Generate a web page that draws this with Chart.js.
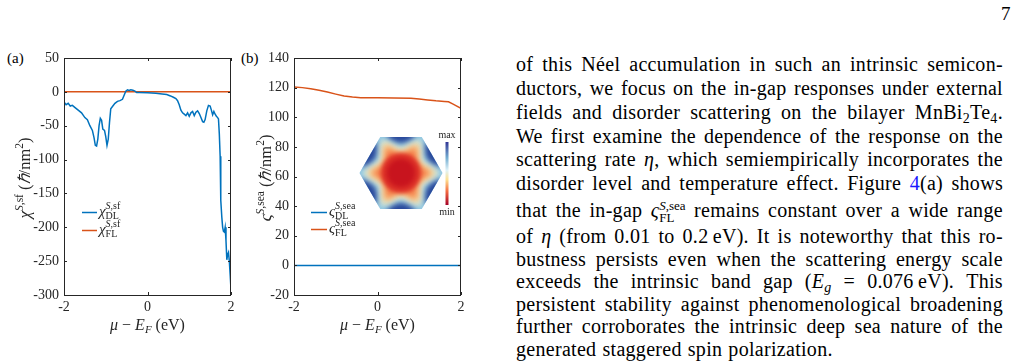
<!DOCTYPE html>
<html>
<head>
<meta charset="utf-8">
<script src="https://cdn.jsdelivr.net/npm/chart.js@4.4.0/dist/chart.umd.min.js"></script>
<style>
body { margin: 0; background: #fff; width: 1012px; height: 362px; overflow: hidden; position: relative; font-family: "Liberation Serif", serif; color: #000; }
canvas { position: absolute; top: 0; }
.tag { position: absolute; font-size: 15px; }
.ln { position: absolute; left: 516px; width: 487px; height: 22px; line-height: 22px; font-size: 20px; letter-spacing: 0.3px; display: flex; justify-content: space-between; align-items: baseline; white-space: nowrap; }
.ln.last { justify-content: flex-start; gap: 6px; }
.ln sub { font-size: 14px; vertical-align: -4px; line-height: 0; }
.ss { display: inline-flex; flex-direction: column; font-size: 13px; line-height: 12px; vertical-align: 7px; letter-spacing: 0; }
.lk { color: #1a1aff; }
</style>
</head>
<body>
<div class="tag" style="left:1001px;top:3px;font-size:19px">7</div>
<div class="tag" style="left:7px;top:50px">(a)</div>
<div class="tag" style="left:241px;top:50px">(b)</div>
<canvas id="chartA" width="250" height="362" style="left:0px"></canvas>
<canvas id="chartB" width="244" height="362" style="left:236px"></canvas>
<div id="text"></div>
<script>
// energy axis and responses, panel (a)
const dlE = [-2, -1.95, -1.9, -1.85, -1.8, -1.72, -1.66, -1.58, -1.5, -1.44, -1.38, -1.32, -1.28, -1.25, -1.22, -1.19, -1.16, -1.13, -1.1, -1.07, -1.03, -1.0, -0.97, -0.94, -0.91, -0.88, -0.83, -0.78, -0.72, -0.66, -0.6, -0.56, -0.52, -0.48, -0.44, -0.4, -0.35, -0.3, -0.26, -0.2, 0, 0.2, 0.35, 0.46, 0.55, 0.62, 0.68, 0.72, 0.76, 0.8, 0.84, 0.88, 0.92, 0.96, 1.0, 1.04, 1.08, 1.12, 1.16, 1.2, 1.24, 1.28, 1.32, 1.35, 1.38, 1.42, 1.46, 1.5, 1.53, 1.56, 1.59, 1.62, 1.65, 1.68, 1.7, 1.72, 1.74, 1.75, 1.76, 1.78, 1.8, 1.82, 1.84, 1.86, 1.88, 1.9, 1.92, 1.94, 1.96, 1.98, 2.0];
const dlSf = [-15, -19, -17, -21, -20, -24, -27, -31, -38, -41, -50, -57, -68, -79, -80, -70, -50, -39, -42, -55, -57, -66, -79, -70, -45, -25, -21, -17, -14, -13, -11, -5, 1, 3, 2, 3, 2.5, 1, -1, -1, -1.5, -2, -3, -4, -6, -8, -10, -13, -19, -27, -31, -33, -35, -31, -36, -31, -29, -35, -30, -28, -32, -38, -44, -45, -41, -28, -20, -21, -27, -34, -29, -33, -36, -38, -40, -62, -95, -125, -160, -185, -200, -206, -207, -200, -220, -248, -240, -237, -250, -270, -292];
const flE = [-2, 2];
const flSf = [0, 0];

// panel (b)
const seaE = [-2, -1.8, -1.6, -1.4, -1.2, -1.0, -0.8, -0.6, -0.4, -0.2, 0, 0.4, 0.8, 1.0, 1.2, 1.4, 1.6, 1.7, 1.8, 1.9, 2.0];
const flSea = [120.5, 120, 119.2, 118.2, 117, 115.6, 114.3, 113.6, 113.2, 113.1, 113.1, 113, 112.8, 112.3, 111.7, 111.1, 110.7, 110.4, 109, 107.5, 106];
const dlSea = seaE.map(() => 0);

// tick settings
const xTicks = { min: -2, max: 2, step: 2 };
const yTicksA = { min: -300, max: 50, step: 50 };
const yTicksB = { min: -20, max: 140, step: 20 };

const BLUE = '#0072BD', ORANGE = '#D95319', AX = '#262626';

function fnt(sz, it) { return (it ? 'italic ' : '') + sz + 'px "Liberation Serif", serif'; }

// width of a run of math pieces
function runW(ctx, parts) {
    let w = 0;
    parts.forEach(p => {
        if (p.stack) {
            w += Math.max(runW(ctx, p.stack[0]), runW(ctx, p.stack[1]));
        } else {
            ctx.font = fnt(p.s, p.it);
            w += ctx.measureText(p.t).width;
        }
    });
    return w;
}

// draw a run of math pieces from x, baseline y
function runDraw(ctx, parts, x, y) {
    parts.forEach(p => {
        if (p.stack) {
            runDraw(ctx, p.stack[0], x, y + p.up);
            runDraw(ctx, p.stack[1], x, y + p.dn);
            x += Math.max(runW(ctx, p.stack[0]), runW(ctx, p.stack[1]));
        } else {
            ctx.font = fnt(p.s, p.it);
            ctx.fillText(p.t, x, y + (p.dy || 0));
            x += ctx.measureText(p.t).width;
        }
    });
}

const xTitle = [
    { t: 'μ', s: 16, it: true }, { t: ' − ', s: 16 }, { t: 'E', s: 16, it: true },
    { t: 'F', s: 11, it: true, dy: 3 }, { t: ' (eV)', s: 16 }
];
function yTitle(sym, sup) {
    return [
        { t: sym, s: 17, it: true }, { t: 'S', s: 11.5, it: true, dy: -7.5 }, { t: sup, s: 11.5, dy: -7.5 },
        { t: ' (', s: 16.5 }, { t: 'ℏ', s: 16.5, it: true }, { t: '/nm', s: 16.5 }, { t: '2', s: 11.5, dy: -7.5 }, { t: ')', s: 16.5 }
    ];
}
function legendSym(sym, sup, sub) {
    return [
        { t: sym, s: 15, it: true },
        { stack: [[{ t: 'S', s: 10, it: true }, { t: sup, s: 10 }], [{ t: sub, s: 10 }]], up: -7, dn: 3.5 }
    ];
}

// box, inner ticks, titles and legend
function decor(cfg) {
    return {
        id: 'decor',
        afterDraw(chart) {
            const { ctx, chartArea: a, scales } = chart;
            ctx.save();
            ctx.strokeStyle = AX;
            ctx.lineWidth = 1;
            ctx.strokeRect(Math.round(a.left) + 0.5, Math.round(a.top) + 0.5, Math.round(a.right - a.left) - 1, Math.round(a.bottom - a.top));
            const tl = 3;
            ctx.beginPath();
            scales.y.ticks.forEach(t => {
                const py = Math.round(scales.y.getPixelForValue(t.value)) + 0.5;
                ctx.moveTo(a.left, py); ctx.lineTo(a.left + tl, py);
                ctx.moveTo(a.right, py); ctx.lineTo(a.right - tl, py);
            });
            scales.x.ticks.forEach(t => {
                const px = Math.round(scales.x.getPixelForValue(t.value)) + 0.5;
                ctx.moveTo(px, a.bottom); ctx.lineTo(px, a.bottom - tl);
                ctx.moveTo(px, a.top); ctx.lineTo(px, a.top + tl);
            });
            ctx.stroke();

            ctx.fillStyle = AX;
            ctx.textBaseline = 'alphabetic';
            // x title
            const cxm = (a.left + a.right) / 2;
            runDraw(ctx, xTitle, cxm - runW(ctx, xTitle) / 2, 330);
            // y title, rotated
            ctx.save();
            ctx.translate(cfg.yTitleX, 178);
            ctx.rotate(-Math.PI / 2);
            runDraw(ctx, cfg.yTitle, -runW(ctx, cfg.yTitle) / 2, 0);
            ctx.restore();

            // legend
            cfg.legend.forEach(it => {
                ctx.strokeStyle = it.color;
                ctx.lineWidth = 1.5;
                ctx.beginPath();
                ctx.moveTo(a.left + cfg.legX[0], it.y);
                ctx.lineTo(a.left + cfg.legX[1], it.y);
                ctx.stroke();
                ctx.fillStyle = AX;
                runDraw(ctx, it.label, a.left + cfg.legX[1] + 2, it.y + 3);
            });
            ctx.restore();
        }
    };
}

// heat map inset of panel (b)
function hexPath(ctx, cx, cy, r) {
    ctx.beginPath();
    for (let k = 0; k < 6; k++) {
        const t = k * Math.PI / 3;
        const px = cx + r * Math.cos(t), py = cy + r * Math.sin(t);
        k ? ctx.lineTo(px, py) : ctx.moveTo(px, py);
    }
    ctx.closePath();
}
function starPath(ctx, cx, cy, ro, ri) {
    ctx.beginPath();
    for (let k = 0; k < 12; k++) {
        const t = k * Math.PI / 6;
        const r = k % 2 ? ri : ro;
        const px = cx + r * Math.cos(t), py = cy + r * Math.sin(t);
        k ? ctx.lineTo(px, py) : ctx.moveTo(px, py);
    }
    ctx.closePath();
}
const insetPlugin = {
    id: 'inset',
    afterDatasetsDraw(chart) {
        const { ctx, chartArea: a } = chart;
        const cx = a.left + 107, cy = a.top + 115, R = 41.5;
        ctx.save();
        hexPath(ctx, cx, cy, R);
        ctx.clip();
        ctx.fillStyle = '#86c3e2';
        ctx.fillRect(cx - R - 2, cy - R - 2, 2 * R + 4, 2 * R + 4);
        ctx.filter = 'blur(3px)';
        ctx.fillStyle = '#27469a';
        for (let k = 0; k < 6; k++) {
            const t = Math.PI / 6 + k * Math.PI / 3;
            ctx.beginPath();
            ctx.ellipse(cx + 38 * Math.cos(t), cy + 38 * Math.sin(t), 14, 9, t + Math.PI / 2, 0, 2 * Math.PI);
            ctx.fill();
        }
        ctx.filter = 'blur(3.5px)';
        ctx.fillStyle = '#cdebf3';
        starPath(ctx, cx, cy, 41, 25); ctx.fill();
        ctx.fillStyle = '#fde79a';
        starPath(ctx, cx, cy, 37, 22); ctx.fill();
        ctx.fillStyle = '#f47a47';
        starPath(ctx, cx, cy, 32, 19); ctx.fill();
        ctx.filter = 'blur(2px)';
        ctx.fillStyle = '#dc2f27';
        ctx.beginPath(); ctx.arc(cx, cy, 20, 0, 2 * Math.PI); ctx.fill();
        ctx.fillStyle = '#c8141e';
        ctx.beginPath(); ctx.arc(cx, cy, 14, 0, 2 * Math.PI); ctx.fill();
        ctx.restore();

        // colour bar
        ctx.save();
        const bx = a.left + 151.5, by0 = a.top + 84, by1 = a.top + 147;
        const g = ctx.createLinearGradient(0, by0, 0, by1);
        g.addColorStop(0, '#313695');
        g.addColorStop(0.25, '#74add1');
        g.addColorStop(0.45, '#e0f3f8');
        g.addColorStop(0.6, '#fee090');
        g.addColorStop(0.78, '#f46d43');
        g.addColorStop(1, '#a50026');
        ctx.fillStyle = g;
        ctx.fillRect(bx, by0, 3, by1 - by0);
        ctx.fillStyle = AX;
        ctx.font = fnt(10, false);
        ctx.textAlign = 'center';
        ctx.fillText('max', bx + 1.5, by0 - 4);
        ctx.fillText('min', bx + 1.5, by1 + 10);
        ctx.restore();
    }
};

function makeChart(id, datasets, yT, cfg, extra) {
    const tickFont = { family: '"Liberation Serif", serif', size: 14 };
    return new Chart(document.getElementById(id), {
        type: 'line',
        data: { datasets: datasets },
        options: {
            responsive: false,
            animation: false,
            layout: { padding: { left: 0, right: 19, top: 58, bottom: 0 } },
            plugins: { legend: { display: false }, tooltip: { enabled: false } },
            elements: { point: { radius: 0 }, line: { borderWidth: 1.5, tension: 0 } },
            scales: {
                x: {
                    type: 'linear', min: xTicks.min, max: xTicks.max,
                    ticks: { stepSize: xTicks.step, padding: 4, font: tickFont, color: AX },
                    grid: { display: false, drawTicks: false },
                    border: { display: false },
                    afterFit: s => { s.height = 67; }
                },
                y: {
                    min: yT.min, max: yT.max,
                    ticks: { stepSize: yT.step, padding: 5, font: tickFont, color: AX },
                    grid: { display: false, drawTicks: false },
                    border: { display: false },
                    afterFit: s => { s.width = cfg.axisW; }
                }
            }
        },
        plugins: [decor(cfg)].concat(extra || [])
    });
}

const pts = (xs, ys) => xs.map((x, i) => ({ x: x, y: ys[i] }));

makeChart('chartA', [
    { data: pts(dlE, dlSf), borderColor: BLUE },
    { data: pts(flE, flSf), borderColor: ORANGE }
], yTicksA, {
    axisW: 64,
    yTitleX: 30,
    yTitle: yTitle('χ', ',sf'),
    legX: [18, 33],
    legend: [
        { color: BLUE, y: 212.5, label: legendSym('χ', ',sf', 'DL') },
        { color: ORANGE, y: 230.5, label: legendSym('χ', ',sf', 'FL') }
    ]
});

makeChart('chartB', [
    { data: pts(seaE, dlSea), borderColor: BLUE },
    { data: pts(seaE, flSea), borderColor: ORANGE }
], yTicksB, {
    axisW: 58,
    yTitleX: 35,
    yTitle: yTitle('ς', ',sea'),
    legX: [17, 33],
    legend: [
        { color: BLUE, y: 212.5, label: legendSym('ς', ',sea', 'DL') },
        { color: ORANGE, y: 229.5, label: legendSym('ς', ',sea', 'FL') }
    ]
}, [insetPlugin]);

// body text column, one entry per printed line
const textLines = [
    'of this Néel accumulation in such an intrinsic semicon-',
    'ductors, we focus on the in-gap responses under external',
    'fields and disorder scattering on the bilayer MnBi<sub>2</sub>Te<sub>4</sub>.',
    'We first examine the dependence of the response on the',
    'scattering rate <i>η</i>, which semiempirically incorporates the',
    'disorder level and temperature effect. Figure <span class=lk>4</span>(a) shows',
    'that the in-gap <i>ς</i><span class=ss><span><i>S</i>,sea</span><span>FL</span></span> remains constant over a wide range',
    'of <i>η</i> (from 0.01 to 0.2&#8201;eV). It is noteworthy that this ro-',
    'bustness persists even when the scattering energy scale',
    'exceeds the intrinsic band gap (<i>E</i><sub><i>g</i></sub> = 0.076&#8201;eV). This',
    'persistent stability against phenomenological broadening',
    'further corroborates the intrinsic deep sea nature of the',
    'generated staggered spin polarization.'
];
const lineY = [67, 91, 115, 138.5, 162, 185.5, 213, 239, 262, 284, 306.5, 329, 352];

const box = document.getElementById('text');
textLines.forEach((ln, i) => {
    const div = document.createElement('div');
    div.className = 'ln' + (i === textLines.length - 1 ? ' last' : '');
    div.style.top = (lineY[i] - 14) + 'px';
    div.innerHTML = ln.split(/ (?![^<]*>)/).map(w => '<span>' + w + '</span>').join('');
    box.appendChild(div);
});
</script>
</body>
</html>
